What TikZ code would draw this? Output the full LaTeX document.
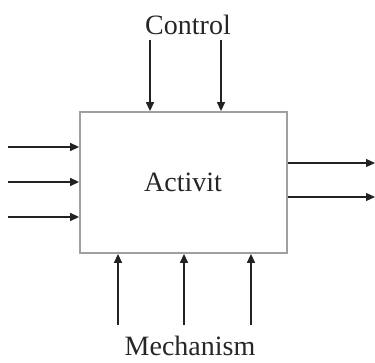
\documentclass[tikz,border=0pt]{standalone}
\usepackage{fontspec}
\setmainfont{Liberation Serif}
\usepackage{tikz}
\usetikzlibrary{positioning,arrows.meta}
\definecolor{boxgray}{HTML}{A0A0A0}
\definecolor{arrowink}{HTML}{222222}

\begin{document}
\begin{tikzpicture}[
  x=1pt,y=1pt,
  font=\fontsize{28}{30}\selectfont,
  activity/.style={draw=boxgray,line width=1.8pt,minimum width=207pt,minimum height=141pt,inner sep=0pt},
  label/.style={inner sep=0pt,text=black!85},
  flow/.style={-{Triangle[length=9pt,width=8pt]},line width=1.3pt,arrowink},
]
\useasboundingbox (0,0) rectangle (375,362);
\node[activity] (box) at (183.5,179.5) {};
\node[label] (act) at (183,180) {Activit};
\node[label] (ctl) at (188,337) {Control};
\node[label] (mech) at (190,16) {Mechanism};
% free ends of the arrows
\coordinate (ctl1) at (150,322);
\coordinate (ctl2) at (221,322);
\coordinate (in1) at (8,215);
\coordinate (in2) at (8,180);
\coordinate (in3) at (8,145);
\coordinate (out1) at (375,199);
\coordinate (out2) at (375,165);
\coordinate (mech1) at (118,37);
\coordinate (mech2) at (184,37);
\coordinate (mech3) at (251,37);
\draw[flow] (ctl1) -- (ctl1 |- box.north);
\draw[flow] (ctl2) -- (ctl2 |- box.north);
\draw[flow] (in1) -- (in1 -| box.west);
\draw[flow] (in2) -- (in2 -| box.west);
\draw[flow] (in3) -- (in3 -| box.west);
\draw[flow] (out1 -| box.east) -- (out1);
\draw[flow] (out2 -| box.east) -- (out2);
\draw[flow] (mech1) -- (mech1 |- box.south);
\draw[flow] (mech2) -- (mech2 |- box.south);
\draw[flow] (mech3) -- (mech3 |- box.south);
\end{tikzpicture}
\end{document}
